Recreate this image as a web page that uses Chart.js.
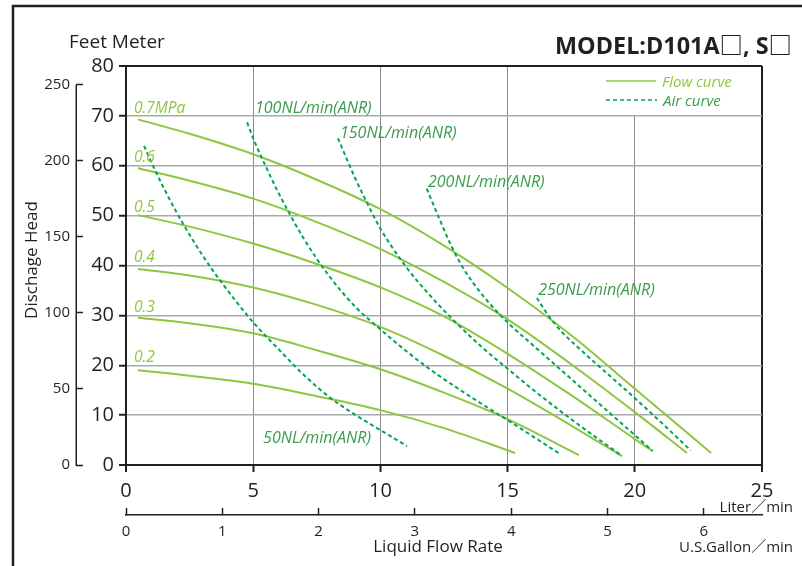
<!DOCTYPE html>
<html><head><meta charset="utf-8">
<script src="https://cdn.jsdelivr.net/npm/chart.js@4.4.0/dist/chart.umd.min.js"></script>
<style>html,body{margin:0;padding:0;background:#fff;}canvas{display:block;}</style>
</head><body>
<canvas id="c" width="802" height="566"></canvas>
<script>
// ---------- data ----------
const meterTicks  = [0, 10, 20, 30, 40, 50, 60, 70, 80];
const literTicks  = [0, 5, 10, 15, 20, 25];
const feetTicks   = [0, 50, 100, 150, 200, 250];
const gallonTicks = [0, 1, 2, 3, 4, 5, 6];

const flowLabels = ['0.7MPa', '0.6', '0.5', '0.4', '0.3', '0.2'];
const flow07 = [[0.47,69.3],[2.5,66.4],[5,62.3],[7.5,57.2],[10,51.3],[12.5,44.0],[15,35.5],[17.5,26.0],[20,15.3],[23.0,2.4]];
const flow06 = [[0.47,59.5],[2.5,57.0],[5,53.4],[7.5,48.7],[10,43.3],[12.5,36.7],[15,29.2],[17.5,20.2],[20,10.6],[22.05,2.4]];
const flow05 = [[0.47,50.1],[2.5,47.8],[5,44.4],[7.5,40.3],[10,35.6],[12.5,29.8],[15,22.3],[17.5,14.0],[20,5.2],[20.7,2.8]];
const flow04 = [[0.47,39.3],[2.5,38.0],[5,35.6],[7.5,32.1],[10,27.7],[12.5,21.9],[15,15.3],[17.5,7.9],[19.5,1.8]];
const flow03 = [[0.47,29.5],[2.5,28.4],[5,26.4],[7.5,23.0],[10,19.2],[12.5,14.5],[15,9.2],[17.8,2.0]];
const flow02 = [[0.47,19.0],[2.5,17.9],[5,16.3],[7.5,13.8],[10,11.0],[12.5,7.4],[15.3,2.4]];

const airLabels = ['50NL/min(ANR)', '100NL/min(ANR)', '150NL/min(ANR)', '200NL/min(ANR)', '250NL/min(ANR)'];
const air50  = [[0.71,64],[1.06,60],[1.73,53.1],[2.32,47.7],[3.0,42.1],[3.7,37],[5,28.6],[6,23.2],[7,18.0],[8,13.6],[9,10.1],[10,7.0],[11.05,3.8]];
const air100 = [[4.76,68.7],[5,65.5],[5.5,59.8],[6,54.5],[7,45.3],[8,37.8],[9,31.8],[10,27.2],[11,22.9],[12,19.0],[13,15.5],[14,12.2],[15,9.0],[17.0,2.4]];
const air150 = [[8.33,65.5],[9,57.6],[9.5,52.3],[10,47.4],[11,39.8],[12,33.7],[13,28.4],[14,23.6],[15,19.3],[16,15.1],[17,11.1],[18,7.3],[19.5,1.8]];
const air200 = [[11.82,55.4],[12.3,49.6],[12.8,43.8],[13.3,39.1],[13.9,34.8],[14.5,31.2],[15.1,28.1],[16,24.0],[17,19.5],[18,15.0],[19,10.5],[20,6.0],[20.7,2.8]];
const air250 = [[16.15,33.5],[16.6,30.0],[17.13,26.7],[18,22.5],[18.5,20.2],[19.7,14.8],[21,8.7],[22.2,2.9]];

const M_TO_FT = 3.28084;
const GAL_TO_L = 3.78541;

// ---------- label placement (data units) ----------
const flowLabelPos = [[0.31,70.5],[0.31,60.7],[0.31,50.7],[0.31,40.7],[0.31,30.7],[0.31,20.6]];
const airLabelPos  = [[5.39,4.4],[5.07,70.5],[8.41,65.5],[11.87,55.7],[16.2,34.1]];

// ---------- styles ----------
const FONT = '"Open Sans", "Noto Sans CJK JP", sans-serif';
const DARK = '#231f20';
const FLOW_COLOR = '#8dc63f';
const AIR_COLOR = '#00a651';
const FLOW_TEXT = '#8dc63f';
const AIR_TEXT = '#3a9d4b';

const toXY = arr => arr.map(p => ({x: p[0], y: p[1]}));
const flowSeries = [flow07, flow06, flow05, flow04, flow03, flow02];
const airSeries = [air50, air100, air150, air200, air250];

const datasets = [];
airSeries.forEach((s, i) => datasets.push({
  label: airLabels[i], data: toXY(s), borderColor: AIR_COLOR, borderWidth: 2,
  borderDash: [4, 3], pointRadius: 0, fill: false, cubicInterpolationMode: 'monotone'
}));
flowSeries.forEach((s, i) => datasets.push({
  label: flowLabels[i], data: toXY(s), borderColor: FLOW_COLOR, borderWidth: 2,
  pointRadius: 0, fill: false, cubicInterpolationMode: 'monotone'
}));

const setTicks = arr => scale => { scale.ticks = arr.map(v => ({value: v})); };

const decor = {
  id: 'decor',
  beforeDatasetsDraw(chart) {
    const {ctx, scales: {x, y}} = chart;
    ctx.save();
    ctx.fillStyle = '#fff';
    const x0 = x.getPixelForValue(15) + 1, x1 = x.getPixelForValue(25) - 1;
    const y0 = y.getPixelForValue(80) + 1, y1 = y.getPixelForValue(70) - 1;
    ctx.fillRect(x0, y0, x1 - x0, y1 - y0);
    ctx.restore();
  },
  afterDraw(chart) {
    const {ctx, scales: {x, y, yFt}} = chart;
    ctx.save();
    // outer frame
    ctx.strokeStyle = DARK; ctx.lineWidth = 2.5;
    ctx.beginPath(); ctx.moveTo(13, 566); ctx.lineTo(13, 6); ctx.lineTo(802, 6); ctx.stroke();
    // feet axis line
    ctx.lineWidth = 1.5;
    const fx = yFt.right + 0.25;
    ctx.beginPath();
    ctx.moveTo(fx, yFt.getPixelForValue(feetTicks[feetTicks.length - 1]));
    ctx.lineTo(fx, yFt.getPixelForValue(0) + 0.75);
    ctx.stroke();

    // curve labels
    ctx.textBaseline = 'alphabetic'; ctx.textAlign = 'left';
    ctx.font = 'italic 15.5px ' + FONT; ctx.fillStyle = FLOW_TEXT;
    flowLabels.forEach((t, i) => ctx.fillText(t, x.getPixelForValue(flowLabelPos[i][0]), y.getPixelForValue(flowLabelPos[i][1])));
    ctx.font = 'italic 16px ' + FONT; ctx.fillStyle = AIR_TEXT;
    airLabels.forEach((t, i) => ctx.fillText(t, x.getPixelForValue(airLabelPos[i][0]), y.getPixelForValue(airLabelPos[i][1])));

    // legend
    ctx.lineWidth = 1.5;
    ctx.strokeStyle = FLOW_COLOR;
    ctx.beginPath(); ctx.moveTo(606, 81); ctx.lineTo(656, 81); ctx.stroke();
    ctx.strokeStyle = AIR_COLOR; ctx.setLineDash([4, 3]);
    ctx.beginPath(); ctx.moveTo(606, 100); ctx.lineTo(657, 100); ctx.stroke();
    ctx.setLineDash([]);
    ctx.font = 'italic 15px ' + FONT;
    ctx.fillStyle = FLOW_TEXT; ctx.fillText('Flow curve', 662, 87);
    ctx.fillStyle = AIR_TEXT; ctx.fillText('Air curve', 663, 106);

    // titles / axis names
    ctx.fillStyle = DARK;
    ctx.font = 'bold 23.4px ' + FONT; ctx.textAlign = 'right';
    ctx.fillText('MODEL:D101A\u25A1, S\u25A1', 792, 54);
    ctx.font = '19px ' + FONT; ctx.textAlign = 'left';
    ctx.fillText('Feet Meter', 69, 48);
    ctx.font = '15px ' + FONT; ctx.textAlign = 'right';
    ctx.fillText('Liter\uFF0Fmin', 793, 512);
    ctx.fillText('U.S.Gallon\uFF0Fmin', 793, 552);
    ctx.font = '17px ' + FONT; ctx.textAlign = 'center';
    ctx.fillText('Liquid Flow Rate', 438, 552);
    ctx.save();
    ctx.translate(37, 260); ctx.rotate(-Math.PI / 2);
    ctx.font = '17px ' + FONT; ctx.textAlign = 'center';
    ctx.fillText('Dischage Head', 0, 0);
    ctx.restore();
    ctx.restore();
  }
};

const edge = (v, lo, hi) => v === lo || v === hi;

new Chart(document.getElementById('c'), {
  type: 'line',
  data: {datasets},
  plugins: [decor],
  options: {
    responsive: false, animation: false, events: [],
    layout: {padding: {left: 0, right: 40, top: 66, bottom: 0}},
    plugins: {legend: {display: false}, tooltip: {enabled: false}, title: {display: false}},
    scales: {
      x: {
        type: 'linear', position: 'bottom', weight: 0, min: 0, max: 25,
        afterBuildTicks: setTicks(literTicks),
        afterFit: s => { s.height = 50; },
        ticks: {font: {family: FONT, size: 20}, color: DARK, padding: 7, maxRotation: 0},
        grid: {
          color: c => edge(c.tick.value, 0, 25) ? DARK : '#8c8c8c',
          lineWidth: c => edge(c.tick.value, 0, 25) ? 2 : 1,
          tickLength: 7, tickColor: DARK, tickWidth: 2
        },
        border: {color: DARK, width: 2}
      },
      x2: {
        type: 'linear', position: 'bottom', weight: 1, min: 0, max: 25 / GAL_TO_L,
        afterBuildTicks: setTicks(gallonTicks),
        afterFit: s => { s.height = 51; },
        ticks: {font: {family: FONT, size: 15}, color: DARK, padding: 15, maxRotation: 0},
        grid: {drawOnChartArea: false, tickLength: -7, tickColor: DARK, tickWidth: 1.5},
        border: {color: DARK, width: 1.5}
      },
      y: {
        type: 'linear', position: 'left', weight: 0, min: 0, max: 80,
        afterBuildTicks: setTicks(meterTicks),
        afterFit: s => { s.width = 50; },
        ticks: {font: {family: FONT, size: 20}, color: DARK, padding: 5},
        grid: {
          color: c => edge(c.tick.value, 0, 80) ? DARK : '#aaaaaa',
          lineWidth: c => edge(c.tick.value, 0, 80) ? 2 : 1.5,
          tickLength: 7, tickColor: DARK, tickWidth: 2
        },
        border: {color: DARK, width: 2}
      },
      yFt: {
        type: 'linear', position: 'left', weight: 1, min: 0, max: 80 * M_TO_FT,
        afterBuildTicks: setTicks(feetTicks),
        afterFit: s => { s.width = 76; },
        ticks: {font: {family: FONT, size: 15}, color: DARK, padding: 13},
        grid: {drawOnChartArea: false, tickLength: -7, tickColor: DARK, tickWidth: 1.5},
        border: {display: false}
      }
    }
  }
});
</script>
</body></html>
